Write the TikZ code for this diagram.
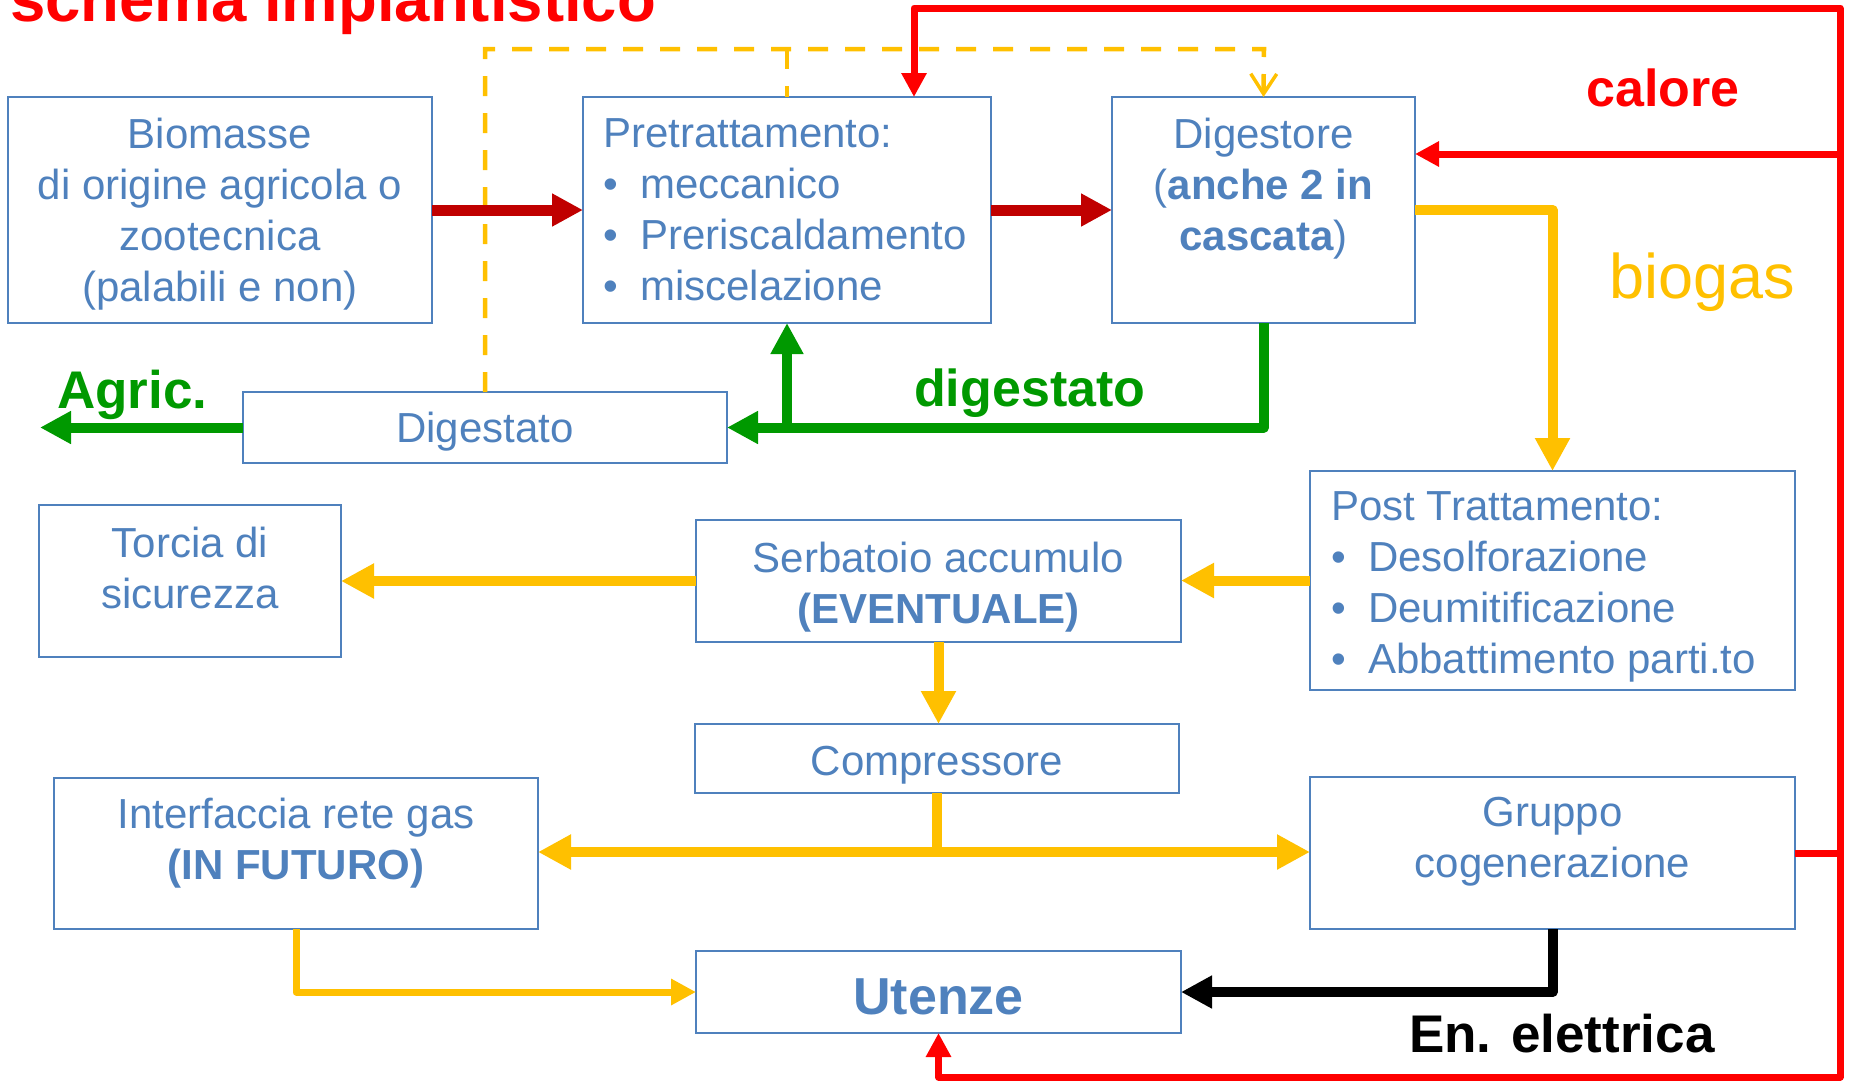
\documentclass[tikz,border=0pt]{standalone}
\usepackage{fontspec}
\setmainfont{Liberation Sans}
\usetikzlibrary{arrows.meta}
\definecolor{boxblue}{HTML}{4F81BD}
\definecolor{dred}{HTML}{C00000}
\definecolor{rred}{HTML}{FF0000}
\definecolor{gyel}{HTML}{FFC000}
\definecolor{dgreen}{HTML}{009900}
\newcommand{\bul}{\makebox[37pt][l]{•}}
\begin{document}
\begin{tikzpicture}[x=1pt,y=-1pt,
  box/.style={draw=boxblue,line width=2pt,inner sep=0pt,outer sep=0pt,anchor=north west},
  txt/.style={text=boxblue,inner sep=0pt,font=\fontsize{42}{51}\selectfont,align=center},
  txtl/.style={text=boxblue,inner sep=0pt,font=\fontsize{42}{51}\selectfont,align=left,anchor=north west},
  lbl/.style={inner sep=0pt,anchor=base west},
  redthick/.style={draw=dred,line width=11pt,-{Triangle[length=31pt,width=31pt]}},
  grnline/.style={draw=dgreen,line width=10pt,line join=round,-{Triangle[length=31pt,width=31pt]}},
  yelline/.style={draw=gyel,line width=10pt,line join=round,-{Triangle[length=33pt,width=33pt]}},
  yelplain/.style={draw=gyel,line width=10pt,line join=round},
  yelthin/.style={draw=gyel,line width=7pt,line join=round,-{Triangle[length=25pt,width=25pt]}},
  redline/.style={draw=rred,line width=7pt,line join=round,-{Triangle[length=24pt,width=24pt]}},
  redplain/.style={draw=rred,line width=7pt,line join=round},
  blkline/.style={draw=black,line width=10pt,line join=round,-{Triangle[length=31pt,width=31pt]}},
  dashyel/.style={draw=gyel,line width=4.5pt,dash pattern=on 20pt off 17pt}
]
\useasboundingbox (0,0) rectangle (1849,1080);

% boxes
\node[box,minimum width=424pt,minimum height=226pt] (bio) at (8,97) {};
\node[box,minimum width=408pt,minimum height=226pt] (pre) at (583,97) {};
\node[box,minimum width=303pt,minimum height=226pt] (dig) at (1112,97) {};
\node[box,minimum width=484pt,minimum height=71pt] (dgt) at (243,392) {};
\node[box,minimum width=302pt,minimum height=152pt] (tor) at (39,505) {};
\node[box,minimum width=485pt,minimum height=122pt] (ser) at (696,520) {};
\node[box,minimum width=485pt,minimum height=219pt] (post) at (1310,471) {};
\node[box,minimum width=484pt,minimum height=69pt] (comp) at (695,724) {};
\node[box,minimum width=484pt,minimum height=151pt] (intf) at (54,778) {};
\node[box,minimum width=485pt,minimum height=152pt] (grp) at (1310,777) {};
\node[box,minimum width=485pt,minimum height=82pt] (ute) at (696,951) {};

% box texts
\node[txt,anchor=north] (bioT) at (220,118) {Biomasse\\di origine agricola o\\zootecnica\\(palabili e non)};
\node[txtl] (preT) at (603,118) {Pretrattamento:\\\bul meccanico\\\bul Preriscaldamento\\\bul miscelazione};
\node[txt,anchor=north] (digT) at (1263.5,118) {Digestore\\(\textbf{anche 2 in}\\\textbf{cascata})};
\node[txt,anchor=base] (dgtT) at (485,442) {Digestato};
\node[txt,anchor=north] (torT) at (190,527) {Torcia di\\sicurezza};
\node[txt,anchor=north] (serT) at (938.5,542) {Serbatoio accumulo\\\textbf{(EVENTUALE)}};
\node[txtl] (postT) at (1331,491) {Post Trattamento:\\\bul Desolforazione\\\bul Deumitificazione\\\bul Abbattimento parti.to};
\node[txt,anchor=base] (compT) at (937,775) {Compressore};
\node[txt,anchor=north] (intfT) at (296,798) {Interfaccia rete gas\\\textbf{(IN FUTURO)}};
\node[txt,anchor=north] (grpT) at (1552.5,797) {Gruppo\\cogenerazione};
\node[txt,anchor=base,font=\fontsize{52}{60}\selectfont\bfseries] (uteT) at (938.5,1014) {Utenze};

% labels
\node[lbl,text=rred,font=\fontsize{63.5}{70}\selectfont\bfseries] (title) at (10,21) {schema impiantistico};
\node[lbl,text=rred,font=\fontsize{52}{60}\selectfont\bfseries] (calL) at (1586,106) {calore};
\node[lbl,text=gyel,font=\fontsize{63}{70}\selectfont] (bioL) at (1609,298) {biogas};
\node[lbl,text=dgreen,font=\fontsize{52}{60}\selectfont\bfseries] (digL) at (914,406) {digestato};
\node[lbl,text=dgreen,font=\fontsize{53}{60}\selectfont\bfseries] (agrL) at (57,408) {Agric.};
\node[lbl,text=black,font=\fontsize{53}{60}\selectfont\bfseries] (eneL) at (1409,1052) {En. elettrica};

% helper coordinates
\coordinate (dtop) at (1264,49);
\coordinate (rTR) at (1840,8);
\coordinate (rdn) at (914,8);
\coordinate (rcal) at (1840,154);
\coordinate (rBR) at (1840,1077);
\coordinate (agr) at (40,427.5);

% dashed yellow recirculation
\draw[dashyel,-{Straight Barb[length=20pt,width=26pt,line width=3.5pt]}] (dgt.north) |- (dtop) -- (dig.north);
\draw[dashyel] (pre.north |- dtop) -- (pre.north);

% dark red material flow
\draw[redthick] (bio.east) -- (pre.west);
\draw[redthick] (pre.east) -- (dig.west);

% green digestate
\draw[grnline] (dig.south) |- (dgt.east);
\draw[grnline] (pre.south |- dgt.east) -- (pre.south);
\draw[grnline] (dgt.west) -- (agr);

% biogas
\draw[yelline] (dig.east) -| (post.north);
\draw[yelline] (post.west) -- (post.west -| ser.east);
\draw[yelline] (ser.west) -- (ser.west -| tor.east);
\draw[yelline] (ser.south) -- (ser.south |- comp.north);
\coordinate (cj) at (937,852);
\draw[yelplain] (comp.south) -- (cj);
\draw[yelline] (cj) -- (cj -| intf.east);
\draw[yelline] (cj) -- (cj -| grp.west);
\draw[yelthin] (intf.south) |- (ute.west);

% electricity
\draw[blkline] (grp.south) |- (ute.east);

% heat
\draw[redline] (grp.east) -- (grp.east -| rTR) -- (rTR) -- (rdn) -- (rdn |- pre.north);
\draw[redline] (rcal) -- (rcal -| dig.east);
\draw[redline] (grp.east -| rTR) -- (rBR) -- (rBR -| ute.south) -- (ute.south);
\end{tikzpicture}
\end{document}
